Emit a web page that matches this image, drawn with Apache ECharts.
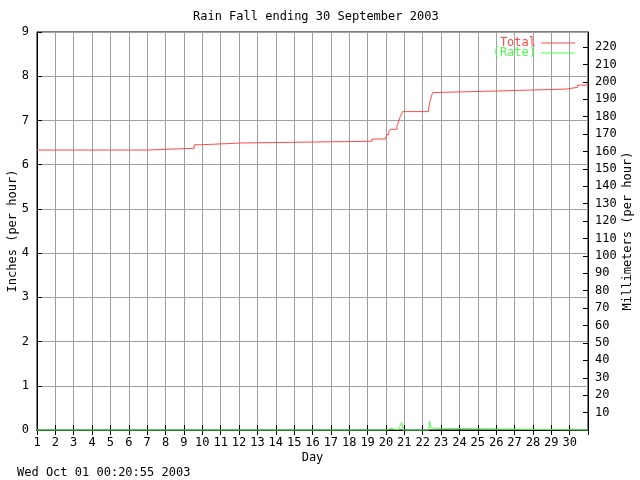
<!DOCTYPE html>
<html>
<head>
<meta charset="utf-8">
<script src="https://cdn.jsdelivr.net/npm/echarts@6/dist/echarts.min.js"></script>
<style>html,body{margin:0;padding:0;background:#fff}#c{width:640px;height:480px}</style>
</head>
<body>
<div id="c"></div>
<script>
const titleText = 'Rain Fall ending 30 September 2003';
const stampText = 'Wed Oct 01 00:20:55 2003';
const dayTicks = [1,2,3,4,5,6,7,8,9,10,11,12,13,14,15,16,17,18,19,20,21,22,23,24,25,26,27,28,29,30];

// Running total (inches); each value holds from its day until the next day
const totalDays = [1, 6.94, 9.56, 9.92, 12.17, 19.24, 19.97, 20.05, 20.16, 20.24, 20.6, 20.66, 20.72, 20.78, 20.85, 20.91, 22.32, 22.35, 22.39, 22.44, 22.5, 22.55, 22.6, 26.38, 29.83, 30.44, 31];
const totalInches = [6.33, 6.37, 6.45, 6.49, 6.53, 6.58, 6.62, 6.68, 6.75, 6.80, 6.88, 6.94, 7.01, 7.09, 7.15, 7.20, 7.26, 7.33, 7.42, 7.50, 7.58, 7.63, 7.67, 7.71, 7.75, 7.80, 7.80];

// Rain rate (inches per hour)
const rateDays = [1, 9.55, 9.6, 9.65, 20.05, 20.1, 20.25, 20.32, 20.68, 20.72, 20.8, 20.86, 20.9, 20.93, 22.33, 22.38, 22.43, 22.58, 22.62, 31];
const rateInches = [0, 0, 0.03, 0, 0, 0.04, 0.04, 0, 0, 0.05, 0.06, 0.17, 0.14, 0, 0, 0.2, 0.06, 0.04, 0, 0];

const FONT = 'DejaVu Sans Mono';
const RED = '#ff4a4a';
const GREEN = '#4cff4c';
const GRID = '#a0a0a0';

const chart = echarts.init(document.getElementById('c'), null, {renderer: 'canvas'});
const txt = {fontFamily: FONT, fontSize: 12, color: '#000'};

chart.setOption({
  animation: false,
  backgroundColor: '#fff',
  grid: {left: 37, right: 52, top: 32, bottom: 50, show: true, borderColor: '#000', borderWidth: 1, outerBoundsMode: 'none'},
  title: {text: titleText, left: 193, top: 11, padding: 0, textStyle: {fontFamily: FONT, fontSize: 12, fontWeight: 'normal', color: '#000'}},
  legend: [
    {data: [{name: 'Total', textStyle: {color: RED}}], right: 65, top: 37, padding: 0, icon: 'rect', itemWidth: 34, itemHeight: 1, align: 'right', textStyle: {fontFamily: FONT, fontSize: 12}},
    {data: [{name: '(Rate)', textStyle: {color: GREEN}}], right: 65, top: 47, padding: 0, icon: 'rect', itemWidth: 34, itemHeight: 1, align: 'right', textStyle: {fontFamily: FONT, fontSize: 12}}
  ],
  graphic: [
    {type: 'text', left: 17, top: 467, style: {text: stampText, font: '12px "' + FONT + '"', fill: '#000'}}
  ],
  xAxis: [
    {type: 'value', min: 1, max: 31, interval: 1, position: 'bottom',
     name: 'Day', nameLocation: 'middle', nameGap: 22, nameMoveOverlap: false, nameTextStyle: txt,
     axisLine: {show: true, lineStyle: {color: '#000'}},
     axisTick: {show: true, inside: true, length: 5, lineStyle: {color: '#000'}},
     axisLabel: {...txt, margin: 7, formatter: v => (dayTicks.indexOf(v) >= 0 ? String(v) : '')},
     splitLine: {show: true, lineStyle: {color: GRID, width: 1}}},
    {type: 'value', min: 1, max: 31, interval: 1, position: 'top',
     axisLine: {show: true, lineStyle: {color: '#000'}},
     axisTick: {show: true, inside: true, length: 5, lineStyle: {color: '#000'}},
     axisLabel: {show: false}, splitLine: {show: false}}
  ],
  yAxis: [
    {type: 'value', min: 0, max: 9, interval: 1, position: 'left',
     name: 'Inches (per hour)', nameLocation: 'middle', nameGap: 18, nameMoveOverlap: false, nameRotate: 90, nameTextStyle: txt,
     axisLine: {show: true, lineStyle: {color: '#000'}},
     axisTick: {show: true, inside: true, length: 5, lineStyle: {color: '#000'}},
     axisLabel: {...txt, margin: 8},
     splitLine: {show: true, lineStyle: {color: GRID, width: 1}}},
    {type: 'value', min: 0, max: 228.6, interval: 10, position: 'right',
     name: 'Millimeters (per hour)', nameLocation: 'middle', nameGap: 34, nameMoveOverlap: false, nameRotate: 90, nameTextStyle: txt,
     axisLine: {show: true, lineStyle: {color: '#000'}},
     axisTick: {show: true, inside: true, length: 5, lineStyle: {color: '#000'}},
     axisLabel: {...txt, margin: 7, showMinLabel: false, showMaxLabel: false,
       formatter: v => (v > 0 && v % 10 === 0 ? String(v) : '')},
     splitLine: {show: false}}
  ],
  series: [
    {name: 'Total', type: 'line', xAxisIndex: 0, yAxisIndex: 0, symbol: 'none', showSymbol: false, smooth: false, step: 'end', clip: false, z: 3,
     lineStyle: {color: RED, width: 1}, itemStyle: {color: RED},
     data: totalDays.map((d, i) => [d, totalInches[i]])},
    {name: '(Rate)', type: 'line', xAxisIndex: 0, yAxisIndex: 0, symbol: 'none', showSymbol: false, smooth: false, clip: false, z: 4,
     lineStyle: {color: GREEN, width: 1}, itemStyle: {color: GREEN},
     data: rateDays.map((d, i) => [d, rateInches[i]])}
  ]
});
</script>
</body>
</html>
